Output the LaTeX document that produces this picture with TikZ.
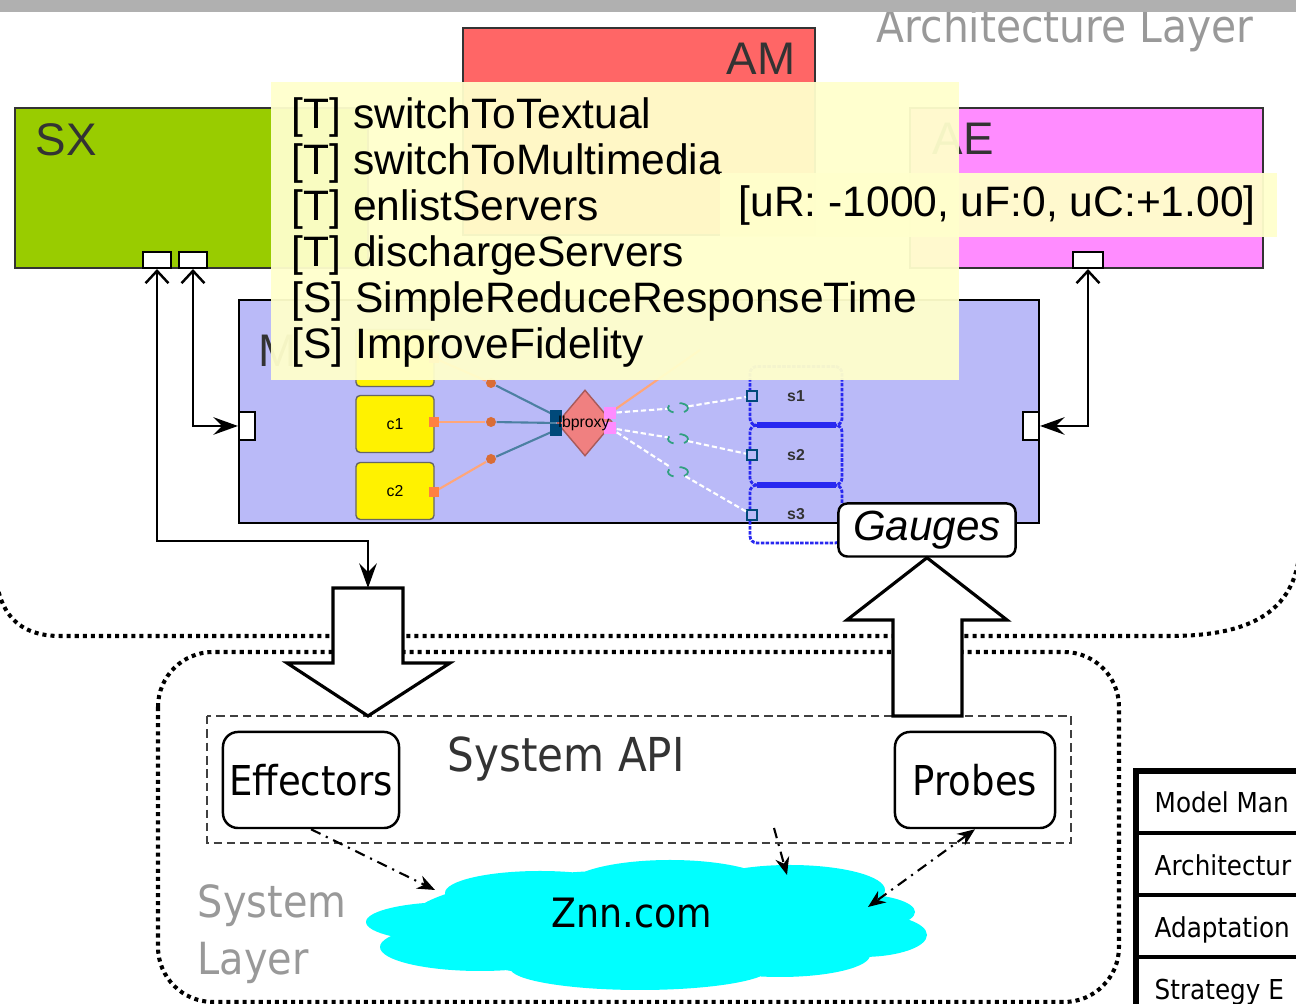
\documentclass[tikz,border=0pt]{standalone}
\usepackage{fontspec}
\setmainfont{Liberation Sans}
\newfontfamily\tah[FakeStretch=0.9]{DejaVu Sans}
\usetikzlibrary{arrows.meta,shapes.geometric}

\definecolor{sxgreen}{HTML}{99CC00}
\definecolor{amred}{HTML}{FF6666}
\definecolor{aepink}{HTML}{FF8CFF}
\definecolor{mmblue}{HTML}{BABAF8}
\definecolor{tipyellow}{HTML}{FFFFCC}
\definecolor{boxgray}{HTML}{333333}
\definecolor{layergray}{HTML}{999999}
\definecolor{bargray}{HTML}{B0B0B0}
\definecolor{znncyan}{HTML}{00FFFF}
\definecolor{portorange}{HTML}{FF8040}
\definecolor{portblue}{HTML}{00497A}
\definecolor{lbcoral}{HTML}{F08080}
\definecolor{srvblue}{HTML}{2828F0}
\definecolor{rolegreen}{HTML}{30A080}

\begin{document}
\begin{tikzpicture}[x=0.01cm,y=-0.01cm,
  port/.style={draw, fill=white, line width=0.6pt, inner sep=0pt, minimum width=2.8mm, minimum height=1.6mm},
  vport/.style={port, minimum width=1.6mm, minimum height=2.8mm},
  comp/.style={draw=boxgray, line width=0.6pt},
  complabel/.style={text=boxgray, inner sep=0pt, font=\fontsize{13}{16}\selectfont},
  link/.style={line width=0.7pt},
  layerline/.style={line width=1.15pt, dash pattern=on 1.15pt off 1.15pt},
  tipbox/.style={fill=tipyellow, fill opacity=0.95},
  tiptext/.style={anchor=base west, inner sep=0pt, font=\fontsize{12.1}{14}\selectfont},
  bigarrow/.style={draw, fill=white, line width=0.9pt},
  calls/.style={line width=0.6pt, dash pattern=on 3pt off 1.7pt on 0.6pt off 1.7pt},
  cbox/.style={draw=black!60, fill=yellow, rounded corners=1.2pt, minimum width=7.8mm, minimum height=5.7mm, inner sep=0pt, font=\fontsize{4.5}{5}\selectfont},
  cport/.style={fill=portorange, inner sep=0pt, minimum size=1mm},
  role/.style={circle, fill=portorange!85!black, inner sep=0pt, minimum size=1mm},
  bport/.style={fill=portblue, inner sep=0pt, minimum size=1.2mm},
  pport/.style={fill=aepink, inner sep=0pt, minimum size=1.2mm},
  ocon/.style={draw=portorange!70!white, line width=0.6pt},
  bcon/.style={draw=portblue!70!white, line width=0.6pt},
  wcon/.style={draw=white, line width=0.6pt, dash pattern=on 1.5pt off 0.8pt},
  srole/.style={ellipse, draw=rolegreen, dashed, line width=0.5pt, inner sep=0pt, minimum width=2mm, minimum height=1mm},
  srv/.style={draw=srvblue, line width=0.8pt, dash pattern=on 1pt off 0.4pt, rounded corners=2pt, minimum width=9.2mm, inner sep=0pt, font=\bfseries\fontsize{4.5}{5}\selectfont, text=boxgray},
  sport/.style={draw=portblue, fill=mmblue, line width=0.6pt, inner sep=0pt, minimum size=1mm},
  api/.style={draw, rounded corners=1.5mm, line width=0.7pt, minimum height=9.6mm, inner sep=0pt, font=\tah\fontsize{11.7}{14}\selectfont},
  rowtext/.style={anchor=base west, inner sep=0pt, font=\tah\fontsize{7.8}{9}\selectfont}
]
\useasboundingbox (0,0) rectangle (1296,1004);
\clip (0,0) rectangle (1296,1004);

% layers
\draw[layerline] (-5,560) .. controls (-5,615) and (20,636) .. (60,636) -- (1170,636) .. controls (1250,636) and (1300,612) .. (1300,540);
\draw[layerline, rounded corners=5.5mm] (158,652) rectangle (1119,1002);

% components
\draw[comp, fill=amred] (463,28) rectangle (815,235);
\node[complabel, anchor=base east] (amlabel) at (796,75) {AM};
\draw[comp, fill=aepink] (910,108) rectangle (1263,268);
\node[complabel, anchor=base west] (aelabel) at (932,155) {AE};
\node[port, minimum width=3mm] (aep) at (1088,260) {};
\draw[comp, fill=sxgreen] (15,108) rectangle (368,268);
\node[complabel, anchor=base west] (sxlabel) at (35,156) {SX};
\node[port] (sxa) at (157,260) {};
\node[port] (sxb) at (193,260) {};
\draw[comp, draw=black, fill=mmblue] (239,300) rectangle (1039,523);
\node[complabel, anchor=base west] (mmlabel) at (258,367) {M};
\node[vport] (mml) at (247,426) {};
\node[vport] (mmr) at (1031,426) {};

% system model inside M
\node[cbox] (c0) at (395,358) {};
\node[cbox] (c1) at (395,424) {c1};
\node[cbox] (c2) at (395,491) {c2};
\node[role] (r0) at (491,383) {};
\node[role] (r1) at (491,422) {};
\node[role] (r2) at (491,459) {};
\node[diamond, fill=lbcoral, draw=lbcoral!70!black, line width=0.4pt, inner sep=0pt, minimum width=5.6mm, minimum height=6.6mm] (lb) at (585,423) {};
\coordinate (lbup) at (700,350);
\node[srole] (e0) at (678,408) {};
\node[srole] (e1) at (678,439) {};
\node[srole] (e2) at (678,472) {};
\node[srv, minimum height=5.9mm] (s1) at (796,396) {s1};
\node[srv, minimum height=6mm] (s2) at (796,455) {s2};
\node[srv, minimum height=5.8mm] (s3) at (796,514) {s3};
\draw[srvblue, line width=1.8pt] (757,425) -- (836,425);
\draw[srvblue, line width=1.8pt] (757,485) -- (836,485);
\draw[ocon] (434,358) -- (r0);
\draw[ocon] (434,422) -- (r1);
\draw[ocon] (434,492) -- (r2);
\draw[bcon] (r0) -- (556,416);
\draw[bcon] (r1) -- (lb.west);
\draw[bcon] (r2) -- (556,430);
\draw[ocon] (610,413) -- (lbup);
\node[cport] (c0p) at (434,358) {};
\node[cport] (c1p) at (434,422) {};
\node[cport] (c2p) at (434,492) {};
\node[bport] (lb0) at (556,416) {};
\node[bport] (lb1) at (556,430) {};
\node[pport] (lb2) at (610,413) {};
\node[pport] (lb3) at (610,428) {};
\node[sport] (s1p) at (752,396) {};
\node[sport] (s2p) at (752,455) {};
\node[sport] (s3p) at (752,515) {};
\draw[wcon] (lb2) -- (e0) -- (s1p);
\draw[wcon] (lb3) -- (e1) -- (s2p);
\draw[wcon] (lb3) -- (e2) -- (s3p);
\node[inner sep=0pt, font=\fontsize{4.5}{5}\selectfont] (lbname) at (584,423) {lbproxy};

% connections to the components
\coordinate (dnjoin) at (368,541);
\coordinate (dntail) at (368,588);
\draw[link, {Straight Barb[length=3.5pt,width=6.5pt]}-{Stealth[length=7pt,width=5pt,inset=2.5pt]}] (sxa.south) |- (dnjoin) -- (dntail);
\draw[link, {Straight Barb[length=3.5pt,width=6.5pt]}-{Stealth[length=7pt,width=5pt,inset=2.5pt]}] (sxb.south) |- (mml.west);
\draw[link, {Straight Barb[length=3.5pt,width=6.5pt]}-{Stealth[length=7pt,width=5pt,inset=2.5pt]}] (aep.south) |- (mmr.east);

% pop-ups
\fill[tipbox] (271,82) rectangle (959,380);
\foreach \txt [count=\i from 0] in {{[T] switchToTextual},{[T] switchToMultimedia},{[T] enlistServers},{[T] dischargeServers},{[S] SimpleReduceResponseTime},{[S] ImproveFidelity}}
  \node[tiptext] (op\i) at (291,{129+46*\i}) {\txt};
\fill[tipbox] (720,173) rectangle (1277,237);
\node[tiptext] (utility) at (738,217) {[uR: -1000, uF:0, uC:+1.00]};

% system layer
\draw[black!75, line width=0.6pt, dash pattern=on 2.4pt off 1.4pt] (207,716) rectangle (1071,843);
\node[inner sep=0pt, anchor=base west, text=boxgray, font=\tah\fontsize{13.3}{16}\selectfont] (apilabel) at (447,772) {System API};
\node[api, minimum width=17.6mm] (eff) at (311,780) {Effectors};
\node[api, minimum width=16mm] (probes) at (975,780) {Probes};
\node[draw, fill=white, rounded corners=2.5pt, line width=0.7pt, minimum width=17.7mm, minimum height=5.3mm, inner sep=0pt, font=\itshape\fontsize{12}{14}\selectfont] (gauges) at (927,530) {Gauges};
\draw[bigarrow] (333,588) -- (403,588) -- (403,663) -- (450,663) -- (368,716) -- (287,663) -- (333,663) -- cycle;
\draw[bigarrow] (893,716) -- (962,716) -- (962,620) -- (1007,620) -- (gauges.south) -- (847,620) -- (893,620) -- cycle;

\fill[znncyan] (640,925) ellipse [x radius=235, y radius=55]
  (452,922) ellipse [x radius=86, y radius=20]
  (480,947) ellipse [x radius=100, y radius=24]
  (540,893) ellipse [x radius=95, y radius=22]
  (670,888) ellipse [x radius=105, y radius=28]
  (790,890) ellipse [x radius=95, y radius=25]
  (855,912) ellipse [x radius=60, y radius=18]
  (862,935) ellipse [x radius=65, y radius=22]
  (640,968) ellipse [x radius=130, y radius=22]
  (780,955) ellipse [x radius=90, y radius=22];
\node[inner sep=0pt, font=\tah\fontsize{11.5}{14}\selectfont] (znn) at (632,913) {Znn.com};
\coordinate (znnA) at (435,890);
\coordinate (znnB) at (787,875);
\coordinate (znnC) at (868,907);
\coordinate (apiB) at (774,828);
\draw[calls, -{Stealth[length=5pt,width=4pt]}] (eff.south) -- (znnA);
\draw[calls, -{Stealth[length=5pt,width=4pt]}] (apiB) -- (znnB);
\draw[calls, {Stealth[length=5pt,width=4pt]}-{Stealth[length=5pt,width=4pt]}] (probes.south) -- (znnC);
\node[inner sep=0pt, anchor=base west, text=layergray, font=\tah\fontsize{12.6}{15}\selectfont] (syslabel) at (197,918) {System};
\node[inner sep=0pt, anchor=base west, text=layergray, font=\tah\fontsize{12.6}{15}\selectfont] (laylabel) at (197,975) {Layer};

% legend
\draw[line width=1.5pt, fill=white] (1136,771) rectangle (1340,1040);
\foreach \y in {833,895,957}
  \draw[line width=1.2pt] (1136,\y) -- (1340,\y);
\node[rowtext] (row1) at (1154,813) {Model Man};
\node[rowtext] (row2) at (1154,876) {Architectur};
\node[rowtext] (row3) at (1154,938) {Adaptation};
\node[rowtext] (row4) at (1154,1000) {Strategy E};

% title
\node[inner sep=0pt, anchor=base west, text=layergray, font=\tah\fontsize{12.9}{15}\selectfont] (archlabel) at (876,43) {Architecture Layer};
\fill[bargray] (0,0) rectangle (1296,12);
\end{tikzpicture}
\end{document}
